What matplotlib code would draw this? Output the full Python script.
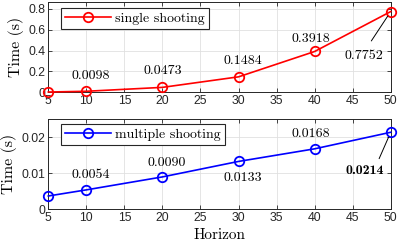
import matplotlib
matplotlib.use("Agg")
import matplotlib.pyplot as plt

horizon = [5, 10, 20, 30, 40, 50]
single_time = [0.0025, 0.0098, 0.0473, 0.1484, 0.3918, 0.7752]
multiple_time = [0.0037, 0.0054, 0.0090, 0.0133, 0.0168, 0.0214]
single_labels = ["", "0.0098", "0.0473", "0.1484", "0.3918", "0.7752"]
multiple_labels = ["", "0.0054", "0.0090", "0.0133", "0.0168", "0.0214"]
x_ticks = [5, 10, 15, 20, 25, 30, 35, 40, 45, 50]
top_yticks = [0, 0.2, 0.4, 0.6, 0.8]
top_yticklabels = ["0", "0.2", "0.4", "0.6", "0.8"]
bot_yticks = [0, 0.01, 0.02]
bot_yticklabels = ["0", "0.01", "0.02"]

plt.rcParams['axes.formatter.use_mathtext'] = True
AX = (0.15, 0.15, 0.15)
SERIF = 'cmr10'

fig = plt.figure(figsize=(3.98, 2.45), dpi=100)
ax1 = fig.add_axes([0.1214, 0.6233, 0.8603, 0.3698])
ax2 = fig.add_axes([0.1214, 0.1457, 0.8603, 0.3673])

def style(ax, yticks, yticklabels, ylim):
    ax.set_xlim(5, 50)
    ax.set_ylim(*ylim)
    ax.set_xticks(x_ticks)
    ax.set_xticklabels([str(v) for v in x_ticks], fontsize=8.8,
                       family='Liberation Sans', color=AX)
    ax.set_yticks(yticks)
    ax.set_yticklabels(yticklabels, fontsize=8.8, family='Liberation Sans', color=AX)
    ax.tick_params(direction='in', length=3, width=0.6, top=True, right=True,
                   colors=AX, pad=2)
    ax.grid(True, color=(0.88, 0.88, 0.88), linewidth=0.6)
    ax.set_axisbelow(True)
    for s in ax.spines.values():
        s.set_color(AX)
        s.set_linewidth(0.7)
    ax.set_ylabel("Time (s)", family=SERIF, fontsize=11.5, labelpad=3)

style(ax1, top_yticks, top_yticklabels, (0, 0.87))
style(ax2, bot_yticks, bot_yticklabels, (0, 0.025))

ax1.plot(horizon, single_time, '-o', color='red', lw=1.2, ms=6.8, mfc='none',
         mew=1.3, label='single shooting', clip_on=False, zorder=3)
ax2.plot(horizon, multiple_time, '-o', color='blue', lw=1.2, ms=6.8, mfc='none',
         mew=1.3, label='multiple shooting', clip_on=False, zorder=3)

ax2.set_xlabel("Horizon", family=SERIF, fontsize=11, labelpad=3)

top_offsets = [None, (4, 15), (0, 16), (4, 16), (-4, 12.5), (-27, -44)]
bot_offsets = [None, (4, 15), (4, 14), (4, -17), (-4, 14.5), (-26, -39)]

for i, (h, v, lab) in enumerate(zip(horizon, single_time, single_labels)):
    if not lab:
        continue
    off = top_offsets[i]
    kw = {}
    if i == len(horizon) - 1:
        kw['arrowprops'] = dict(arrowstyle='-', color='black', lw=0.7,
                                shrinkA=5, shrinkB=4, relpos=(0.55, 1.0))
    ax1.annotate(lab, (h, v), xytext=off, textcoords='offset pixels',
                 ha='center', va='center', family=SERIF, fontsize=10, **kw)

for i, (h, v, lab) in enumerate(zip(horizon, multiple_time, multiple_labels)):
    if not lab:
        continue
    off = bot_offsets[i]
    kw = {}
    fam = SERIF
    if i == len(horizon) - 1:
        fam = 'cmb10'
        kw['arrowprops'] = dict(arrowstyle='-', color='black', lw=0.7,
                                shrinkA=3, shrinkB=4, relpos=(0.8, 1.0))
    ax2.annotate(lab, (h, v), xytext=off, textcoords='offset pixels',
                 ha='center', va='center', family=fam, fontsize=10, **kw)

for ax, anchor in ((ax1, (0.037, 0.934)), (ax2, (0.037, 0.944))):
    leg = ax.legend(loc='upper left', bbox_to_anchor=anchor, borderaxespad=0,
                    fancybox=False, framealpha=1, edgecolor=AX,
                    prop={'family': SERIF, 'size': 10}, handlelength=3.3,
                    handletextpad=0.3, borderpad=0.3)
    leg.get_frame().set_linewidth(0.8)

fig.savefig("out.png", dpi=100)
